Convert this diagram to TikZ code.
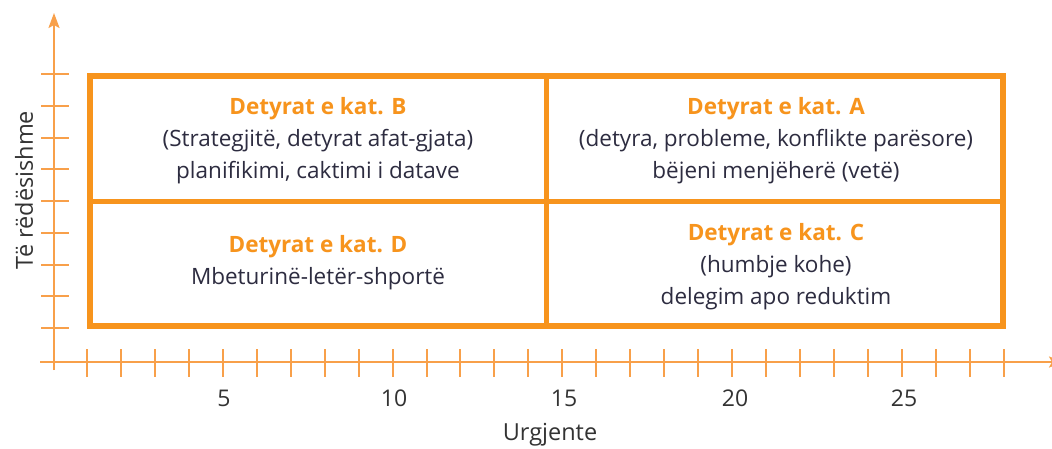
\documentclass[tikz,border=0pt]{standalone}
\usepackage{fontspec}
\setmainfont{Open Sans}
\usetikzlibrary{arrows.meta}
\definecolor{org}{HTML}{F7941D}
\definecolor{axc}{HTML}{F8A04A}
\definecolor{txt}{HTML}{2D2C40}
\definecolor{numc}{HTML}{333333}
\begin{document}
\begin{tikzpicture}[x=1pt,y=-1pt,
  frame/.style={draw=org,line width=6.5pt},
  divider/.style={draw=org,line width=5pt},
  axis/.style={draw=axc,line width=2.2pt},
  tickmark/.style={draw=axc,line width=2pt},
  quad/.style={align=center,font=\fontsize{22.5}{32}\selectfont,text=txt,inner sep=0pt},
  numlbl/.style={font=\fontsize{23}{24}\selectfont,text=numc,inner sep=0pt},
  axlbl/.style={font=\fontsize{23.5}{24}\selectfont,text=numc,inner sep=0pt}]
\useasboundingbox (0,0) rectangle (1052,448);
\fill[white] (0,0) rectangle (1052,448);
% axes
\coordinate (yb) at (54,370);
\coordinate (yt) at (54,13);
\coordinate (xl) at (40,362);
\coordinate (xr) at (1064,362);
\draw[axis,-{Stealth[length=15pt,width=11pt,inset=3pt]}] (yb) -- (yt);
\draw[axis,-{Stealth[length=15pt,width=11pt,inset=3pt]}] (xl) -- (xr);
\foreach \k in {1,...,28}
  \draw[tickmark] ({87+(\k-1)*33.95},349) -- ({87+(\k-1)*33.95},377);
\foreach \i in {0,...,8}
  \draw[tickmark] (41,{74+\i*31.75}) -- (69,{74+\i*31.75});
% frame
\coordinate (fa) at (90,76);
\coordinate (fb) at (1003,326);
\draw[divider] (546,76) -- (546,326);
\draw[divider] (90,201.5) -- (1003,201.5);
\draw[frame] (fa) rectangle (fb);
% quadrant texts
\node[quad] (qB) at (318,141) {{\bfseries\color{org}Detyrat e kat. B}\\(Strategjitë, detyrat afat-gjata)\\planifikimi, caktimi i datave};
\node[quad] (qA) at (776,141) {{\bfseries\color{org}Detyrat e kat. A}\\(detyra, probleme, konflikte parësore)\\bëjeni menjëherë (vetë)};
\node[quad] (qD) at (318,263) {{\bfseries\color{org}Detyrat e kat. D}\\Mbeturinë-letër-shportë};
\node[quad] (qC) at (776,267) {{\bfseries\color{org}Detyrat e kat. C}\\(humbje kohe)\\delegim apo reduktim};
% numbers
\foreach \n/\x in {5/224,10/394,15/564,20/735,25/904}
  \node[numlbl] (n\n) at (\x,398) {\n};
\node[axlbl] (lx) at (550,435) {Urgjente};
\node[axlbl,rotate=90] (ly) at (24,190) {Të rëdësishme};
\end{tikzpicture}
\end{document}
